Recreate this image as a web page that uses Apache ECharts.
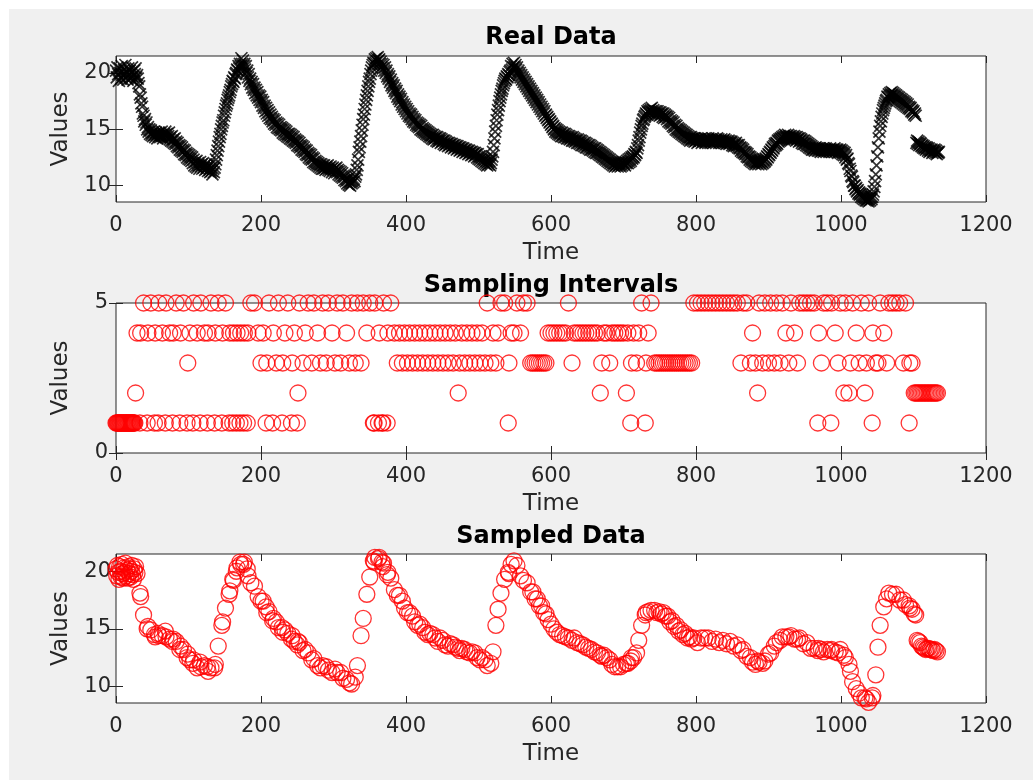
<!DOCTYPE html>
<html>
<head>
<meta charset="utf-8">
<script src="https://cdn.jsdelivr.net/npm/echarts@6.0.0/dist/echarts.min.js"></script>
<style>
html,body{margin:0;padding:0;background:#fff;}
#chart{width:1033px;height:782px;}
</style>
</head>
<body>
<div id="chart"></div>
<script>
// ---- DATA ----
// Real data: one value per time step, t = 0 .. 1135
const realValues = [
20.2,19.6,20.5,19.9,19.3,20.4,20.0,19.5,20.6,19.8,
19.4,20.3,19.9,20.7,19.6,20.1,19.4,20.4,19.8,20.2,
19.5,20.0,20.5,19.7,19.3,20.2,19.9,20.4,19.6,19.8,
19.5,19.1,18.8,18.1,17.8,17.3,17.0,16.4,16.2,15.7,
15.9,15.4,15.6,15.0,15.2,14.8,15.0,14.6,14.9,14.5,
14.7,14.4,14.8,14.5,14.3,14.7,14.5,14.2,14.6,14.4,
14.7,14.3,14.5,14.8,14.4,14.2,14.6,14.5,14.8,14.3,
14.6,14.2,14.4,14.7,14.1,14.3,14.0,14.4,13.9,14.1,
13.8,14.2,13.7,13.9,13.5,13.8,13.4,13.6,13.2,13.5,
13.1,13.4,13.0,13.2,12.8,13.1,12.7,12.9,12.5,12.8,
12.4,12.7,12.3,12.6,12.2,12.5,12.0,12.3,
11.8,12.1,11.7,12.2,11.6,12.0,11.8,11.5,12.1,11.7,
11.9,11.5,12.0,11.6,11.8,11.4,11.9,11.5,11.7,11.3,
11.8,11.4,11.2,11.6,11.3,11.0,11.5,11.2,11.6,11.9,
12.3,12.7,13.1,13.5,13.9,14.3,14.6,15.0,15.3,15.6,
15.8,16.2,16.5,16.8,17.1,17.3,17.6,17.8,18.0,18.3,
18.5,18.8,19.0,19.3,19.2,19.6,19.5,19.9,20.0,20.3,
20.2,20.6,20.4,20.8,20.6,21.3,20.8,21.1,20.6,20.8,
20.3,20.6,20.0,20.2,19.6,19.9,19.3,19.5,19.0,19.2,
18.7,19.0,18.5,18.7,18.2,18.5,18.0,18.3,17.8,18.0,
17.6,17.9,17.4,17.6,17.1,17.4,16.9,17.1,16.6,16.9,
16.4,16.7,16.2,16.5,16.0,16.3,15.9,16.1,15.7,15.9,
15.5,15.8,15.4,15.6,15.2,15.5,15.1,15.4,15.0,15.2,
14.9,15.1,14.7,15.0,14.6,14.9,14.5,14.8,14.4,14.6,
14.3,14.6,14.2,14.5,14.1,14.4,14.0,14.3,13.9,14.1,
13.8,14.0,13.6,13.9,13.5,13.8,13.4,13.6,13.2,13.5,
13.1,13.4,13.0,13.2,12.8,13.1,12.7,12.9,12.5,12.8,
12.4,12.7,12.3,12.5,12.1,12.4,12.0,12.2,11.9,12.1,
11.8,12.0,11.7,11.9,11.6,11.9,11.5,11.8,
11.5,11.8,11.6,11.4,11.7,11.5,11.8,11.4,11.6,11.3,
11.7,11.5,11.2,11.6,11.4,11.1,11.5,11.3,11.6,11.2,
11.4,11.0,11.3,10.9,11.2,10.8,11.1,10.7,10.9,10.5,
10.8,10.4,10.6,10.2,10.5,10.1,10.3,10.0,10.4,10.2,
10.5,10.3,10.6,10.4,10.8,11.0,11.4,11.8,12.3,13.0,
13.4,13.9,14.4,14.9,15.4,15.9,16.3,16.8,17.2,17.6,
18.0,18.4,18.8,19.2,19.5,19.9,20.2,20.5,20.7,20.9,
20.8,21.2,20.9,21.3,21.0,21.4,21.1,21.2,20.8,21.0,
20.5,20.8,20.4,20.7,20.2,20.5,20.0,20.2,19.7,19.9,
19.5,19.7,19.2,19.4,18.9,19.1,18.7,18.9,18.4,18.6,
18.2,18.4,17.9,18.1,17.7,17.9,17.5,17.7,17.2,17.4,
17.0,17.2,16.8,17.0,16.6,16.8,16.4,16.6,16.2,16.4,
16.1,16.3,15.9,16.1,15.7,15.9,15.6,15.8,15.4,15.6,
15.3,15.5,15.2,15.4,15.0,15.3,14.9,15.1,14.8,15.0,
14.7,14.9,14.6,14.8,14.5,14.7,14.4,14.6,14.3,14.5,
14.2,14.5,14.1,14.4,14.2,14.3,14.0,14.3,13.9,14.2,
14.0,14.2,13.8,14.1,13.9,14.0,13.7,14.0,
13.6,13.9,13.7,13.8,13.5,13.8,13.6,13.7,13.4,13.7,
13.5,13.6,13.3,13.6,13.4,13.5,13.2,13.5,13.3,13.4,
13.1,13.4,13.2,13.3,13.0,13.3,13.1,13.2,12.9,13.2,
13.0,13.1,12.8,13.1,12.9,13.0,12.7,13.0,12.8,12.9,
12.6,12.9,12.7,12.8,12.5,12.8,12.4,12.6,12.3,12.6,
12.2,12.5,12.1,12.4,12.0,12.3,11.9,12.2,11.8,12.1,
11.9,12.2,11.8,12.0,12.3,12.6,13.0,13.6,14.2,14.8,
15.3,15.8,16.3,16.7,17.1,17.5,17.8,18.1,18.4,18.6,
18.9,19.1,19.3,19.5,19.4,19.7,19.6,19.9,19.8,20.1,
20.2,20.6,20.3,20.8,20.5,20.9,20.5,20.7,20.3,20.5,
20.0,20.2,19.8,20.0,19.6,19.8,19.4,19.6,19.2,19.4,
19.0,19.2,18.8,19.0,18.6,18.8,18.4,18.6,18.2,18.4,
18.0,18.2,17.8,18.0,17.6,17.8,17.4,17.6,17.2,17.4,
17.0,17.2,16.8,17.0,16.6,16.8,16.4,16.6,16.2,16.3,
16.0,16.1,15.8,15.9,15.6,15.7,15.4,15.5,15.2,15.3,
15.0,15.1,14.8,15.0,14.7,14.9,14.6,14.8,14.5,14.7,
14.4,14.7,14.4,14.6,14.3,14.6,14.3,14.5,14.2,14.4,
14.2,14.4,14.1,14.3,14.2,14.0,14.3,14.0,14.2,13.9,14.1,14.0,
13.8,14.1,13.8,14.0,13.7,14.0,13.6,13.9,13.6,13.8,
13.5,13.8,13.4,13.7,13.4,13.6,13.3,13.6,13.2,13.5,
13.2,13.4,13.1,13.3,13.0,13.3,12.9,13.2,12.9,13.1,
12.8,13.0,12.7,12.9,12.6,12.8,12.5,12.7,12.4,12.6,
12.3,12.5,12.2,12.4,12.1,12.3,12.0,12.2,11.9,12.1,
11.8,12.0,11.7,12.0,11.8,11.9,11.7,12.0,11.8,11.9,
11.7,12.0,11.8,12.1,11.9,12.0,11.8,12.1,12.0,12.2,
12.0,12.3,12.1,12.4,12.2,12.5,12.4,12.6,12.5,12.8,
12.7,13.0,12.9,13.3,13.6,14.0,14.3,14.7,15.0,15.3,
15.5,15.8,15.9,16.1,16.2,16.4,16.3,16.6,16.5,16.7,
16.5,16.8,16.6,16.9,16.5,16.7,16.4,16.6,16.3,16.6,
16.4,16.6,16.3,16.5,16.2,16.5,16.3,16.4,16.1,16.4,
16.0,16.3,16.1,16.2,15.9,16.1,15.7,16.0,15.6,15.8,
15.5,15.7,15.3,15.6,15.2,15.4,15.0,15.3,14.9,15.1,
14.8,15.0,14.7,14.9,14.6,14.8,14.5,14.7,14.4,14.6,
14.3,14.5,14.2,14.4,14.1,14.3,14.0,14.3,14.1,14.2,
14.0,14.2,13.9,14.2,14.0,14.1,13.8,14.1,13.9,14.1,
14.0,14.2,13.8,14.1,13.9,14.0,14.2,13.8,13.9,14.1,14.0,14.2,
13.9,14.1,13.8,14.0,13.9,14.2,13.8,14.0,13.9,14.1,
14.0,14.2,13.9,14.1,13.8,14.0,13.9,14.1,13.8,14.0,
13.9,14.1,13.8,14.0,13.7,13.9,13.8,14.0,13.7,13.9,
13.8,13.9,13.6,13.8,13.5,13.7,13.6,13.8,13.5,13.6,
13.4,13.6,13.3,13.4,13.1,13.3,13.0,13.2,12.9,13.0,
12.8,12.9,12.6,12.8,12.5,12.6,12.3,12.5,12.2,12.4,
12.1,12.3,12.0,12.2,11.9,12.1,12.0,12.2,11.9,12.1,
12.0,12.2,11.9,12.1,12.0,12.3,12.1,12.2,12.4,12.3,
12.6,12.5,12.8,12.7,13.0,12.9,13.2,13.1,13.4,13.3,
13.5,13.7,13.6,13.8,13.7,14.0,13.9,14.1,14.0,14.2,
14.1,14.3,14.2,14.4,14.2,14.5,14.3,14.4,14.2,14.5,
14.3,14.4,14.2,14.4,14.1,14.3,14.2,14.4,14.1,14.3,
14.0,14.3,14.1,14.2,13.9,14.2,14.0,14.1,13.8,14.0,
13.7,14.0,13.7,13.9,13.6,13.8,13.5,13.7,13.4,13.6,
13.3,13.5,13.2,13.4,13.2,13.3,13.1,13.4,13.2,13.3,13.1,13.3,
13.1,13.3,13.0,13.2,13.1,13.3,13.0,13.2,13.1,13.3,
13.0,13.2,13.1,13.2,13.0,13.3,13.1,13.2,13.0,13.2,
13.1,13.3,13.0,13.2,13.1,13.2,12.9,13.1,13.0,13.2,
12.9,13.1,12.8,13.0,12.7,12.9,12.5,12.7,12.3,12.4,
12.0,11.9,11.5,11.3,10.9,10.8,10.4,10.3,10.0,10.0,
9.7,9.8,9.5,9.6,9.3,9.4,9.2,9.3,9.0,9.2,
8.9,9.1,8.8,9.0,8.7,8.9,8.7,8.8,8.6,8.9,
8.7,9.0,8.8,9.0,9.2,9.5,9.9,10.4,11.0,11.8,
12.6,13.4,14.2,14.8,15.3,15.7,16.1,16.4,16.7,16.9,
17.1,17.3,17.5,17.6,17.9,17.8,18.1,17.9,18.2,18.0,
18.3,18.0,18.2,17.9,18.1,17.8,18.0,17.7,17.9,17.6,
17.8,17.5,17.7,17.4,17.6,17.3,17.5,17.2,17.4,17.1,
17.3,17.0,17.2,16.9,17.0,16.8,16.9,16.6,16.7,16.5,
16.6,16.3,16.4,16.2,13.8,14.0,13.7,13.9,13.6,13.8,
13.7,13.5,13.6,13.4,13.5,13.3,13.4,13.2,13.4,13.3,
13.1,13.3,13.0,13.2,13.1,13.2,12.9,13.1,13.0,13.2,
12.9,13.1,12.8,13.0,12.9,13.0
];

// Sampling intervals, in order (each sample is taken that many steps after the previous one, starting at t = 0)
const intervalSteps = [
1,1,1,1,1,1,1,1,1,1,1,1,1,1,1,1,1,1,1,1,1,1,1,1,1,1,1,
2,
4,1,4,5,1,4,5,1,4,1,5,4,1,5,4,1,4,5,1,4,5,1,3,4,1,5,4,1,5,4,1,4,5,1,4,5,1,4,5,1,4,1,4,1,4,1,4,1,4,1,4,
5,5,4,3,4,1,3,5,1,4,3,5,1,3,4,5,1,3,4,1,2,5,3,4,5,3,5,4,3,5,3,5,4,3,5,3,5,4,3,5,3,5,3,5,4,5,1,1,5,1,4,1,1,5,1,4,5,
4,3,4,3,4,3,4,3,4,3,4,3,4,3,4,3,4,3,4,3,4,3,4,3,4,2,3,4,3,4,3,4,3,4,3,4,3,5,3,4,3,4,5,5,1,3,4,4,5,4,5,5,3,3,3,3,3,3,3,3,4,
4,4,4,4,4,4,5,3,4,4,4,4,4,4,4,4,4,2,3,4,4,3,4,4,4,4,4,2,4,1,3,4,3,4,5,1,3,4,5,3,
3,3,3,3,3,3,3,3,3,3,3,3,3,3,3,3,3,
5,5,5,5,5,5,5,5,5,5,5,5,5,
3,5,5,3,4,3,2,5,3,5,3,5,3,5,3,5,4,3,5,4,3,5,5,5,5,5,1,4,3,5,5,1,5,4,3,5,2,5,2,3,5,4,3,5,2,3,5,1,4,3,3,5,4,3,5,5,5,5,3,5,1,3,3,2,
2,2,2,2,2,2,2,2,2,2,2,2,2,2,2,2
];

const timeTickStep = 200;          // x ticks 0..1200
const valueTicks = [10, 15, 20];   // y ticks of data panels
const intervalTicks = [0, 5];      // y ticks of interval panel
const panelTitles = ['Real Data', 'Sampling Intervals', 'Sampled Data'];
const xLabel = 'Time';
const yLabel = 'Values';

// ---- build series data from the arrays ----
const realPoints = realValues.map((v, i) => [i, v]);
const intervalPoints = [];
const sampledPoints = [];
let tCur = 0;
intervalSteps.forEach(d => {
  intervalPoints.push([tCur, d]);
  sampledPoints.push([tCur, realValues[tCur]]);
  tCur += d;
});

// ---- styling / layout ----
const FONT = 'DejaVu Sans';
const AX = '#262626';
const plain = v => String(v);
const gridsLayout = [
  {top: 56, height: 146},
  {top: 303, height: 150},
  {top: 554, height: 149}
];
const grid = gridsLayout.map(g => ({
  left: 116, right: 47, top: g.top, height: g.height,
  show: true, backgroundColor: '#ffffff', borderColor: AX, borderWidth: 1,
  containLabel: false
}));

function xAxisFor(gi, pos) {
  return {
    type: 'value', gridIndex: gi, position: pos,
    min: 0, max: 1200, interval: timeTickStep,
    axisLine: {show: false},
    axisTick: {show: true, inside: true, length: 7, lineStyle: {color: AX, width: 1}},
    axisLabel: {show: pos === 'bottom', fontFamily: FONT, fontSize: 21, color: AX, margin: 13,
                showMinLabel: true, showMaxLabel: true, formatter: plain},
    splitLine: {show: false},
    name: pos === 'bottom' ? xLabel : '',
    nameLocation: 'middle', nameGap: 40,
    nameTextStyle: {fontFamily: FONT, fontSize: 23, color: AX}
  };
}
function yAxisFor(gi, pos, kind) {
  const base = {
    type: 'value', gridIndex: gi, position: pos,
    axisLine: {show: false},
    splitLine: {show: false},
    name: pos === 'left' ? yLabel : '',
    nameLocation: 'middle', nameGap: 43, nameRotate: 90,
    nameTextStyle: {fontFamily: FONT, fontSize: 23, color: AX}
  };
  if (kind === 'interval') {
    return Object.assign(base, {
      min: intervalTicks[0], max: intervalTicks[1], interval: 5,
      axisTick: {show: true, inside: true, length: 7, lineStyle: {color: AX, width: 1}},
      axisLabel: {show: pos === 'left', fontFamily: FONT, fontSize: 21, color: AX, margin: 8,
                  showMinLabel: true, showMaxLabel: true, formatter: plain}
    });
  }
  return Object.assign(base, {
    min: 8.55, max: 21.5,
    axisTick: {show: true, inside: true, length: 7, lineStyle: {color: AX, width: 1}, customValues: valueTicks},
    axisLabel: {show: pos === 'left', fontFamily: FONT, fontSize: 21, color: AX, margin: 5,
                customValues: valueTicks, formatter: plain}
  });
}

const xAxis = [];
const yAxis = [];
for (let g = 0; g < 3; g++) {
  xAxis.push(xAxisFor(g, 'bottom'), xAxisFor(g, 'top'));
  const kind = g === 1 ? 'interval' : 'value';
  yAxis.push(yAxisFor(g, 'left', kind), yAxisFor(g, 'right', kind));
}

const titleCenters = [38, 286, 537];
const graphic = [
  {type: 'rect', shape: {x: 0, y: 0, width: 1033, height: 9}, style: {fill: '#ffffff'}, silent: true},
  {type: 'rect', shape: {x: 0, y: 0, width: 9, height: 782}, style: {fill: '#ffffff'}, silent: true},
  {type: 'rect', shape: {x: 0, y: 780, width: 1033, height: 2}, style: {fill: '#ffffff'}, silent: true}
].concat(panelTitles.map((t, i) => ({
  type: 'text', x: 551, y: titleCenters[i], silent: true,
  style: {text: t, fill: '#000000', font: 'bold 24px "DejaVu Sans"', align: 'center', verticalAlign: 'middle'}
})));

const xSymbol = 'path://M0,0L10,10M10,0L0,10';

const option = {
  backgroundColor: '#f0f0f0',
  animation: false,
  grid: grid,
  xAxis: xAxis,
  yAxis: yAxis,
  graphic: graphic,
  series: [
    {type: 'scatter', xAxisIndex: 0, yAxisIndex: 0, data: realPoints, clip: false, silent: true,
     symbol: xSymbol, symbolSize: 12,
     itemStyle: {color: 'rgba(0,0,0,0)', borderColor: '#000000', borderWidth: 1.7}},
    {type: 'scatter', xAxisIndex: 2, yAxisIndex: 2, data: intervalPoints, clip: false, silent: true,
     symbol: 'circle', symbolSize: 16,
     itemStyle: {color: 'rgba(0,0,0,0)', borderColor: '#ff0000', borderWidth: 1.3}},
    {type: 'scatter', xAxisIndex: 4, yAxisIndex: 4, data: sampledPoints, clip: false, silent: true,
     symbol: 'circle', symbolSize: 16,
     itemStyle: {color: 'rgba(0,0,0,0)', borderColor: '#ff0000', borderWidth: 1.3}}
  ]
};

const chart = echarts.init(document.getElementById('chart'), null, {renderer: 'canvas'});
chart.setOption(option);
</script>
</body>
</html>
